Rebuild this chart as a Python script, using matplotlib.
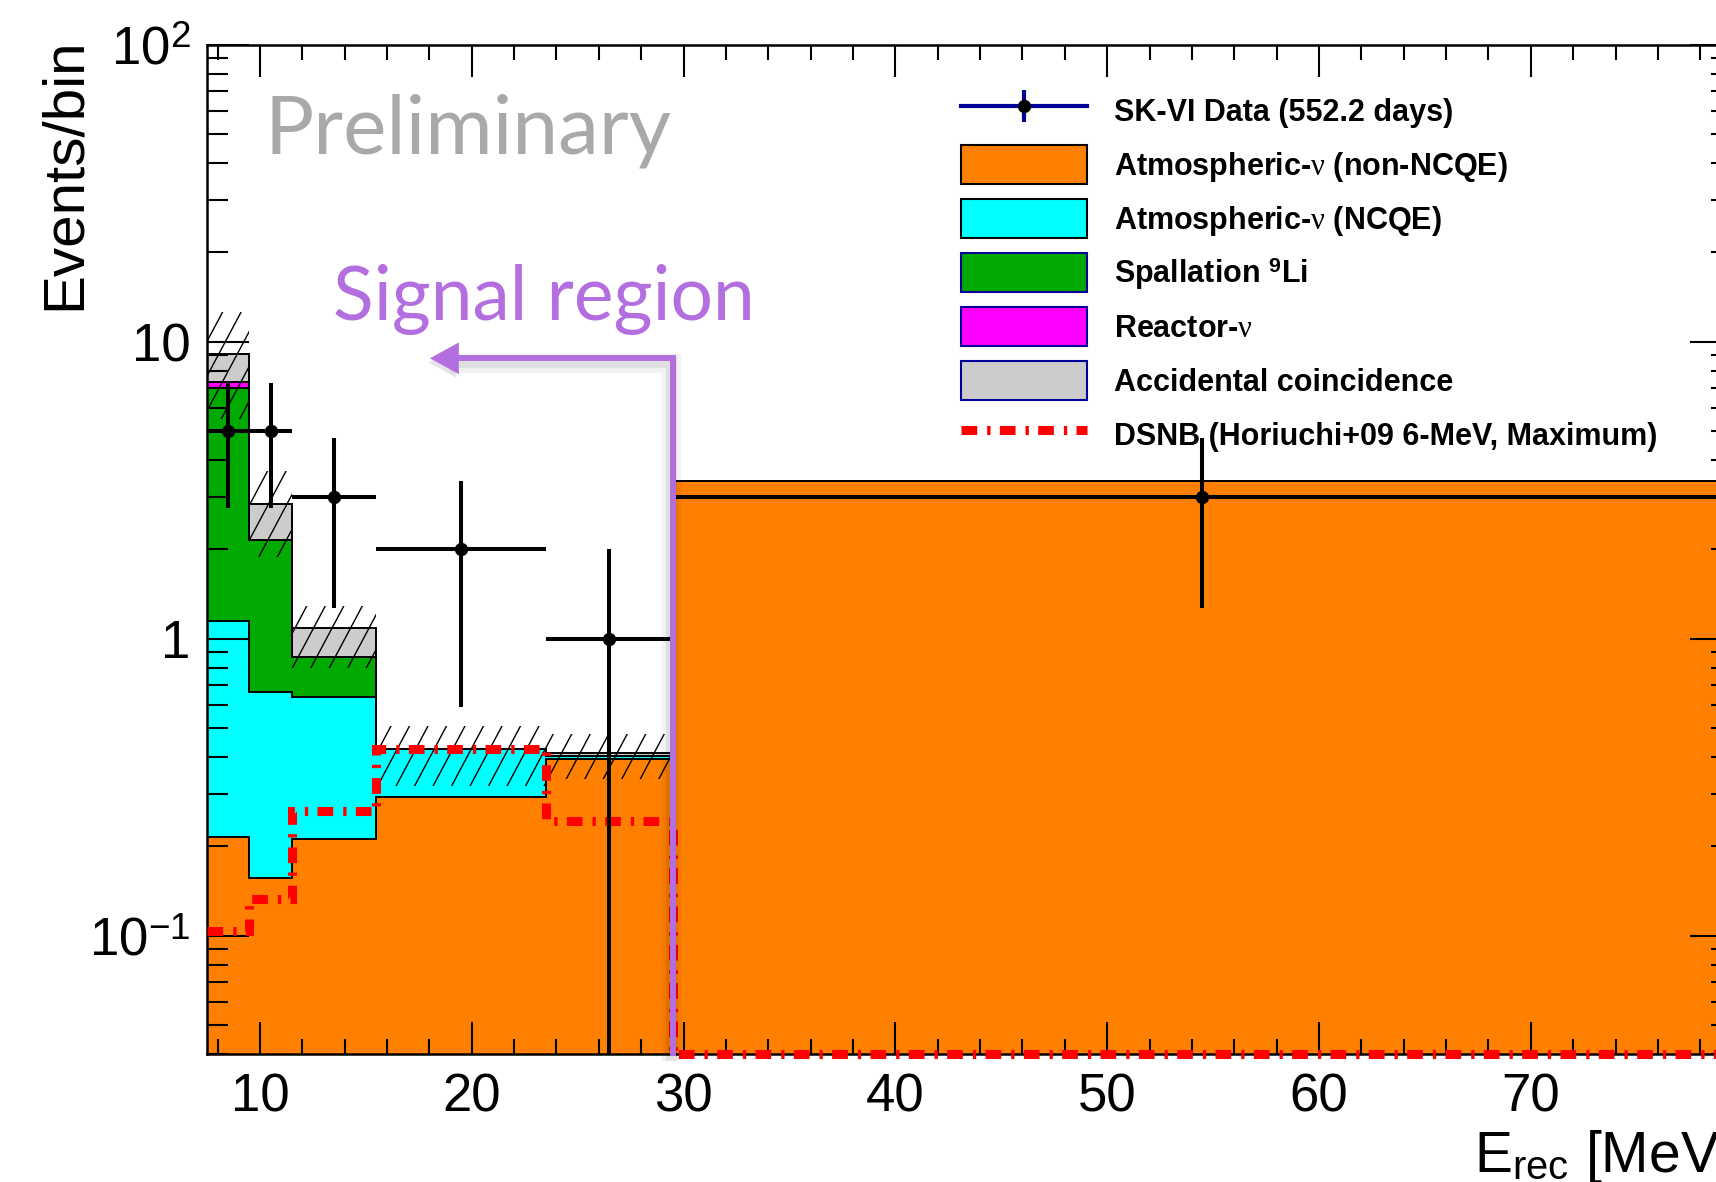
import numpy as np
import matplotlib
matplotlib.use("Agg")
import matplotlib.pyplot as plt
from matplotlib.patches import Patch, PathPatch
from matplotlib.lines import Line2D
from matplotlib.path import Path
from matplotlib.collections import LineCollection
from matplotlib.transforms import IdentityTransform
from matplotlib import patheffects as pe
from matplotlib.ticker import LogLocator, MultipleLocator, NullFormatter

# ---------------- data ----------------
bin_edges = [7.5, 9.5, 11.5, 15.5, 23.5, 29.5, 79.5]          # E_rec [MeV]
atm_non_ncqe = [0.215, 0.156, 0.211, 0.294, 0.394, 3.39]      # orange
atm_ncqe = [0.930, 0.505, 0.428, 0.133, 0.008, 0.0]           # cyan
spallation_li9 = [5.855, 1.489, 0.228, 0.0, 0.0, 0.0]         # green
reactor_nu = [0.33, 0.0, 0.0, 0.0, 0.0, 0.0]                  # magenta
accidental = [1.77, 0.69, 0.218, 0.0, 0.0105, 0.0]            # gray
bkg_band_low = [5.5, 1.88, 0.80, 0.319, 0.337]                # total bkg uncertainty (first 5 bins)
bkg_band_high = [12.6, 3.67, 1.29, 0.507, 0.479]
dsnb_horiuchi = [0.104, 0.133, 0.264, 0.424, 0.243, 0.04]
data_counts = [5, 5, 3, 2, 1, 3]
data_err = [2.24, 2.24, 1.73, 1.41, 1.0, 1.73]
signal_upper = 29.5                                           # MeV, end of signal region

x_ticks = [10, 20, 30, 40, 50, 60, 70]
y_ticks = [0.1, 1, 10, 100]
y_tick_labels = [r"$10^{-1}$", "1", "10", r"$10^{2}$"]

legend_labels = [
    "SK-VI Data (552.2 days)",
    r"Atmospheric-$\nu$ (non-NCQE)",
    r"Atmospheric-$\nu$ (NCQE)",
    r"Spallation $^{\mathbf{9}}$Li",
    r"Reactor-$\nu$",
    "Accidental coincidence",
    "DSNB (Horiuchi+09 6-MeV, Maximum)",
]

C_ORANGE = "#ff8000"
C_CYAN = "#00ffff"
C_GREEN = "#00aa00"
C_MAGENTA = "#ff00ff"
C_GRAY = "#cccccc"
C_NAVY = "#000099"
C_PURPLE = "#b36ee0"

# ---------------- style ----------------
plt.rcParams["font.family"] = ["Liberation Sans", "DejaVu Sans"]
plt.rcParams["mathtext.fontset"] = "custom"
plt.rcParams["mathtext.rm"] = "Liberation Sans"
plt.rcParams["mathtext.bf"] = "Liberation Sans:bold"
plt.rcParams["mathtext.it"] = "Liberation Serif"
plt.rcParams["lines.scale_dashes"] = False

W, H = 1716, 1182
fig = plt.figure(figsize=(W / 100, H / 100), dpi=100)
ax_l, ax_r, ax_t, ax_b = 207, 1732, 44.8, 1054
ax = fig.add_axes([ax_l / W, 1 - ax_b / H, (ax_r - ax_l) / W, (ax_b - ax_t) / H])

edges = np.array(bin_edges)
centers = 0.5 * (edges[:-1] + edges[1:])
halfw = 0.5 * np.diff(edges)
ymin, ymax = 0.04, 100

ax.set_xlim(edges[0], edges[-1])
ax.set_yscale("log")
ax.set_ylim(ymin, ymax)

components = [atm_non_ncqe, atm_ncqe, spallation_li9, reactor_nu, accidental]
colors = [C_ORANGE, C_CYAN, C_GREEN, C_MAGENTA, C_GRAY]
cum = np.cumsum(np.array(components), axis=0)

# filled stack: draw from top level down so lower components overlay
for level in range(len(components) - 1, -1, -1):
    ax.stairs(cum[level], edges, baseline=ymin, fill=True, color=colors[level],
              linewidth=0, zorder=1)
for level in range(len(components)):
    ax.stairs(cum[level], edges, baseline=None, fill=False, color="black",
              linewidth=1.4, zorder=1.2)

# uncertainty band: ROOT-style steep hatch clipped to the band boxes
n_band = len(bkg_band_low)
band_bars = ax.bar(centers[:n_band], np.array(bkg_band_high) - np.array(bkg_band_low),
                   bottom=bkg_band_low, width=2 * halfw[:n_band], fill=False,
                   linewidth=0, zorder=1.4)
band_path = Path.make_compound_path(
    *[b.get_path().transformed(b.get_patch_transform()) for b in band_bars])
clip_patch = PathPatch(band_path, transform=ax.transData)
hatch_spacing, hatch_angle = 18.5, np.deg2rad(62)
run = H / np.tan(hatch_angle)
starts = np.arange(-run, W + hatch_spacing, hatch_spacing)
segs = [[(s, 0), (s + run, H)] for s in starts]
lc = LineCollection(segs, colors="black", linewidths=1.0, transform=IdentityTransform(),
                    zorder=1.4)
ax.add_collection(lc, autolim=False)
lc.set_clip_path(clip_patch)

ax.set_axisbelow(False)

# DSNB prediction
ax.stairs(dsnb_horiuchi, edges, baseline=None, fill=False, color="red", linewidth=6.5,
          linestyle=(0, (11.3, 7.2, 2.4, 6.7)), zorder=2.6, clip_on=False)

# data
ax.errorbar(centers, data_counts, xerr=halfw, yerr=data_err, fmt="o", color="black",
            ms=8.6, elinewidth=2.9, capsize=0, zorder=3)

# axes
ax.set_xlim(edges[0], edges[-1])
ax.set_ylim(ymin, ymax)
ax.set_xticks(x_ticks)
ax.xaxis.set_minor_locator(MultipleLocator(2))
ax.set_yticks(y_ticks, y_tick_labels)
ax.yaxis.set_minor_locator(LogLocator(base=10, subs=range(2, 10), numticks=20))
ax.yaxis.set_minor_formatter(NullFormatter())
ax.tick_params(which="both", direction="in", top=True, right=True, width=1.5)
ax.tick_params(axis="x", which="major", length=22.7, pad=13, labelsize=38)
ax.tick_params(axis="x", which="minor", length=11)
ax.tick_params(axis="y", which="major", length=30, pad=12, labelsize=38)
ax.tick_params(axis="y", which="minor", length=15)
for s in ax.spines.values():
    s.set_linewidth(1.8)

fig.text(80 / W, 1 - 37.5 / H, "Events/bin", rotation=90, rotation_mode="anchor",
         ha="right", va="baseline", fontsize=42)
fig.text(ax_r / W, 1 - 1171.6 / H, r"E$_{\mathrm{rec}}$ [MeV]", ha="right",
         va="baseline", fontsize=41)

# legend
h_data = (Line2D([], [], color=C_NAVY, lw=3),
          Line2D([], [], color=C_NAVY, marker="|", ms=23, mew=3, ls="none"),
          Line2D([], [], color="black", marker="o", ms=8.6, ls="none"))
handles = [
    h_data,
    Patch(facecolor=C_ORANGE, edgecolor="black", linewidth=1.5),
    Patch(facecolor=C_CYAN, edgecolor="black", linewidth=1.5),
    Patch(facecolor=C_GREEN, edgecolor=C_NAVY, linewidth=1.5),
    Patch(facecolor=C_MAGENTA, edgecolor=C_NAVY, linewidth=1.5),
    Patch(facecolor=C_GRAY, edgecolor=C_NAVY, linewidth=1.5),
    Line2D([], [], color="red", lw=6.5, dashes=(11.3, 7.2, 2.4, 6.7)),
]
fs = 22
fs_px = fs * 100 / 72
box_h = 39.0
hh = (box_h / fs_px - 0.245) / 0.65
leg = ax.legend(handles, legend_labels, loc="upper left",
                bbox_to_anchor=(960.9 / W, 1 - 91 / H), bbox_transform=fig.transFigure,
                frameon=False, borderpad=0, borderaxespad=0,
                handlelength=126 / fs_px, handleheight=hh,
                handletextpad=27 / fs_px, labelspacing=(54.0 - box_h) / fs_px,
                prop={"family": "Liberation Sans", "weight": "bold", "size": fs})
leg.set_zorder(5)

# annotations
fig.text(264 / W, 1 - 153 / H, "Preliminary", fontsize=59, family=["Lato", "DejaVu Sans"],
         color="#a8aaa9", va="baseline")
fig.text(333 / W, 1 - 320 / H, "Signal region", fontsize=54, family=["Lato", "DejaVu Sans"],
         color=C_PURPLE, va="baseline")

blend = ax.get_xaxis_transform()
arrow_y = (ax_b - 358.3) / (ax_b - ax_t)
tip_x = edges[0] + (430 - ax_l) / ((ax_r - ax_l) / (edges[-1] - edges[0]))
base_x = tip_x + 1.0
shadow = [pe.SimpleLineShadow(offset=(-1.5, -3.5), shadow_color="black", alpha=0.05, linewidth=14),
          pe.SimpleLineShadow(offset=(-1.5, -3), shadow_color="black", alpha=0.08, linewidth=8),
          pe.Normal()]
ax.plot([signal_upper, signal_upper, base_x], [-0.002, arrow_y, arrow_y], transform=blend,
        color=C_PURPLE, lw=4.3, solid_joinstyle="miter", solid_capstyle="butt",
        clip_on=False, zorder=10, path_effects=shadow)
ax.annotate("", xy=(tip_x, arrow_y), xycoords=blend, xytext=(base_x + 0.3, arrow_y),
            textcoords=blend,
            arrowprops=dict(arrowstyle="-|>,head_length=1.0,head_width=0.55",
                            mutation_scale=20, color=C_PURPLE, lw=0.5,
                            shrinkA=0, shrinkB=0,
                            path_effects=[pe.SimplePatchShadow(offset=(-1.5, -3), alpha=0.12),
                                          pe.Normal()]),
            zorder=10, annotation_clip=False)

fig.savefig("out.png", dpi=100)
